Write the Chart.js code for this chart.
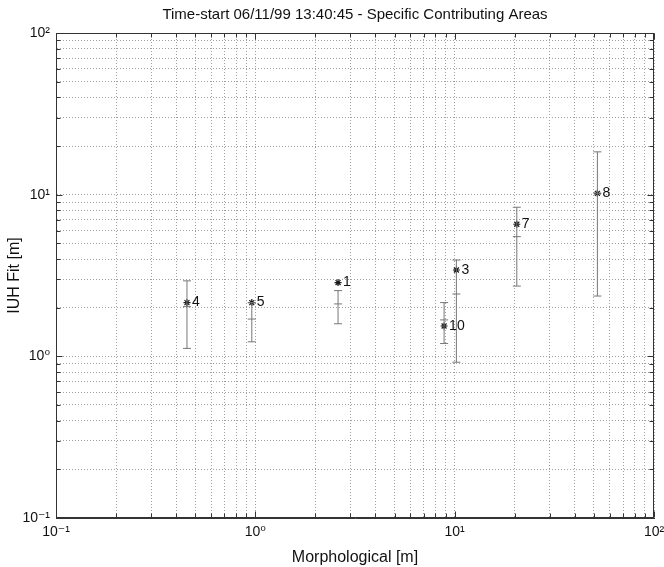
<!DOCTYPE html>
<html>
<head>
<meta charset="utf-8">
<script src="https://cdn.jsdelivr.net/npm/chart.js@4.4.1/dist/chart.umd.min.js"></script>
<style>
  html, body { margin: 0; padding: 0; background: #fff; }
  #wrap { width: 664px; height: 567px; }
</style>
</head>
<body>
<div id="wrap"><canvas id="chart"></canvas></div>
<script>
// ---------- Data ----------
const pointLabels = ['4', '5', '1', '10', '3', '7', '8'];
const morphX      = [0.454, 0.96, 2.60, 8.85, 10.2, 20.5, 52.0];
const fitY        = [2.15, 2.15, 2.86, 1.54, 3.42, 6.56, 10.2];   // asterisk
const meanY       = [2.03, 1.70, 2.11, 1.68, 2.43, 5.50, 10.2];   // middle tick
const upperY      = [2.93, 2.15, 2.55, 2.15, 3.94, 8.36, 18.4];   // top cap
const lowerY      = [1.12, 1.23, 1.59, 1.20, 0.92, 2.72, 2.36];   // bottom cap

const decadeStarts = [0.1, 1, 10];
const axisMax = 100;
const powerLabels = { 0.1: '10\u207B\u00B9', 1: '10\u2070', 10: '10\u00B9', 100: '10\u00B2' };

// 1..9 x 10^n grid positions
const tickValues = [];
for (const d of decadeStarts) {
  for (let m = 1; m < 10; m++) tickValues.push(+(d * m).toPrecision(3));
}
tickValues.push(axisMax);

const FONT = "'Liberation Sans', Arial, 'DejaVu Sans', sans-serif";
const GRID = '#a0a0a0';
const AXIS = '#333';

// ---------- Datasets ----------
const barSets = morphX.map((x, i) => ({
  type: 'line',
  data: [{ x, y: lowerY[i] }, { x, y: meanY[i] }, { x, y: upperY[i] }],
  borderColor: '#777',
  borderWidth: 1,
  pointStyle: 'line',
  pointRadius: 4,
  pointBorderColor: '#777',
  pointBorderWidth: 1,
  fill: false,
  tension: 0,
}));

const starSet = {
  type: 'scatter',
  data: morphX.map((x, i) => ({ x, y: fitY[i] })),
  pointStyle: 'star',
  pointRadius: 3.5,
  pointBorderColor: '#1a1a1a',
  pointBackgroundColor: '#1a1a1a',
  pointBorderWidth: 1.2,
};

// ---------- Plugins ----------
const framePlugin = {
  id: 'frame',
  afterDraw(chart) {
    const { ctx, chartArea: a, scales } = chart;
    const L = Math.round(a.left) + 0.5, R = Math.round(a.right) - 0.5;
    const T = Math.round(a.top) + 0.5, B = Math.round(a.bottom) - 0.5;
    ctx.save();
    ctx.strokeStyle = AXIS;
    ctx.lineWidth = 1;
    ctx.strokeRect(L, T, R - L, B - T);
    // inward tick marks on all four sides
    ctx.beginPath();
    for (const v of tickValues) {
      const len = powerLabels[v] ? 6 : 4;
      const px = Math.round(scales.x.getPixelForValue(v)) + 0.5;
      ctx.moveTo(px, B); ctx.lineTo(px, B - len);
      ctx.moveTo(px, T); ctx.lineTo(px, T + len);
      const py = Math.round(scales.y.getPixelForValue(v)) + 0.5;
      ctx.moveTo(L, py); ctx.lineTo(L + len, py);
      ctx.moveTo(R, py); ctx.lineTo(R - len, py);
    }
    ctx.stroke();
    // point labels
    ctx.fillStyle = '#111';
    ctx.font = '14px ' + FONT;
    ctx.textBaseline = 'middle';
    ctx.textAlign = 'left';
    pointLabels.forEach((t, i) => {
      const px = scales.x.getPixelForValue(morphX[i]);
      const py = scales.y.getPixelForValue(fitY[i]);
      ctx.fillText(t, px + 5, py);
    });
    ctx.restore();
  }
};

const logAxis = (titleText, titlePad) => ({
  type: 'logarithmic',
  min: 0.1,
  max: axisMax,
  afterBuildTicks: (scale) => { scale.ticks = tickValues.map(v => ({ value: v })); },
  ticks: {
    autoSkip: false,
    maxRotation: 0,
    color: '#111',
    font: { family: FONT, size: 14 },
    padding: 6,
    callback: (v) => powerLabels[v] ?? '',
  },
  grid: {
    color: GRID,
    lineWidth: 1,
    drawTicks: false,
  },
  border: { color: AXIS, width: 1, dash: [1, 2] },
  title: {
    display: true,
    text: titleText,
    color: '#111',
    font: { family: FONT, size: 16 },
    padding: titlePad,
  },
});

const xAxis = logAxis('Morphological [m]', { top: 2, bottom: 0 });
xAxis.position = 'bottom';
xAxis.afterFit = (s) => { s.height = 49; s.paddingRight = 10; };

const yAxis = logAxis('IUH Fit [m]', { top: 5, bottom: 0 });
yAxis.afterFit = (s) => { s.width = 56; };

new Chart(document.getElementById('chart'), {
  data: { datasets: [...barSets, starSet] },
  options: {
    responsive: true,
    maintainAspectRatio: false,
    animation: false,
    layout: { padding: { left: 0, right: 0, top: 0, bottom: 0 } },
    scales: {
      x: xAxis,
      y: yAxis,
    },
    plugins: {
      legend: { display: false },
      tooltip: { enabled: false },
      title: {
        display: true,
        fullSize: false,
        text: 'Time-start 06/11/99 13:40:45 - Specific Contributing Areas',
        color: '#111',
        font: { family: FONT, size: 15, weight: 'normal' },
        padding: { top: 6, bottom: 9 },
      },
    },
  },
  plugins: [framePlugin],
});
</script>
</body>
</html>
